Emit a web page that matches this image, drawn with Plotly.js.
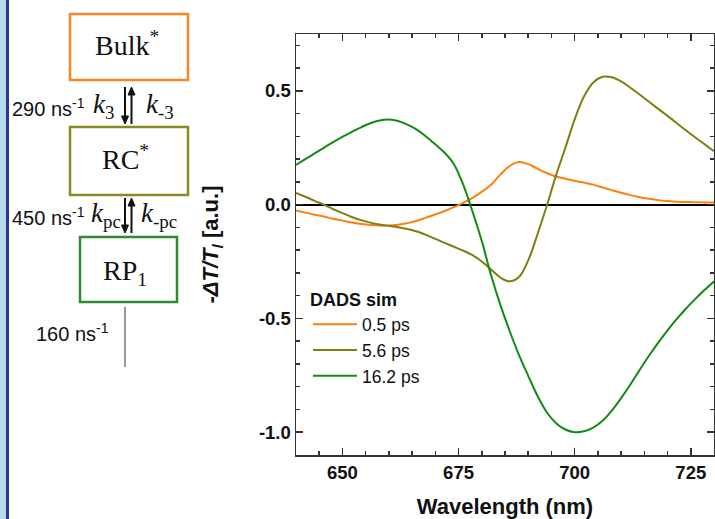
<!DOCTYPE html>
<html>
<head>
<meta charset="utf-8">
<script src="https://cdn.plot.ly/plotly-3.0.1.min.js"></script>
<style>html,body{margin:0;padding:0;background:#fff;}#chart{width:715px;height:519px;}</style>
</head>
<body>
<div id="chart"></div>
<script>
// ---- data ----
var wavelength = [640,642,644,646,648,650,652,654,656,658,660,662,664,666,668,670,672,674,676,678,680,682,684,686,688,690,692,694,696,698,700,702,704,706,708,710,712,714,716,718,720,722,724,726,728,730];
var dads05 = [-0.025,-0.035,-0.044,-0.052,-0.062,-0.070,-0.078,-0.085,-0.089,-0.092,-0.092,-0.088,-0.081,-0.071,-0.057,-0.043,-0.028,-0.011,0.008,0.030,0.056,0.088,0.132,0.170,0.187,0.178,0.158,0.139,0.124,0.114,0.105,0.097,0.088,0.076,0.064,0.052,0.042,0.033,0.026,0.020,0.016,0.013,0.012,0.011,0.010,0.010];
var dads56 = [0.052,0.035,0.017,0.000,-0.020,-0.037,-0.054,-0.068,-0.079,-0.087,-0.093,-0.099,-0.107,-0.118,-0.133,-0.150,-0.168,-0.185,-0.202,-0.222,-0.250,-0.285,-0.320,-0.337,-0.318,-0.245,-0.130,-0.005,0.130,0.250,0.375,0.475,0.537,0.562,0.560,0.542,0.514,0.484,0.452,0.421,0.390,0.358,0.326,0.295,0.265,0.235];
var dads162 = [0.175,0.200,0.225,0.250,0.275,0.298,0.320,0.340,0.358,0.370,0.374,0.368,0.352,0.330,0.300,0.265,0.228,0.178,0.088,-0.030,-0.160,-0.310,-0.440,-0.555,-0.660,-0.752,-0.840,-0.912,-0.960,-0.988,-1.000,-0.996,-0.980,-0.950,-0.905,-0.850,-0.790,-0.726,-0.664,-0.606,-0.552,-0.502,-0.456,-0.414,-0.374,-0.338];
var seriesNames = ['0.5 ps','5.6 ps','16.2 ps'];
var yTickVals = [-1.0,-0.5,0.0,0.5];
var yTickText = ['-1.0','-0.5','0.0','0.5'];
var xTickVals = [650,675,700,725];
var xTickText = ['650','675','700','725'];

// ---- layout helpers (pixel -> paper) ----
var ML = 296, MR = 1, MT = 34, MB = 64, W = 715, H = 519;
var PW = W - ML - MR, PH = H - MT - MB;
function px(x){ return (x - ML) / PW; }
function py(y){ return (H - MB - y) / PH; }

var cOrange = '#ff7f0e', cOlive = '#7f7f10', cGreen = '#138a13';

var traces = [
  {x: wavelength, y: dads05, name: seriesNames[0], mode: 'lines', line: {color: cOrange, width: 2, shape: 'spline', smoothing: 1}},
  {x: wavelength, y: dads56, name: seriesNames[1], mode: 'lines', line: {color: cOlive, width: 2, shape: 'spline', smoothing: 1}},
  {x: wavelength, y: dads162, name: seriesNames[2], mode: 'lines', line: {color: cGreen, width: 2, shape: 'spline', smoothing: 1}}
];

function rect(x0,y0,x1,y1,color){
  return {type:'rect', xref:'paper', yref:'paper', x0:px(x0), x1:px(x1), y0:py(y1), y1:py(y0), line:{color:color, width:2.5}, fillcolor:'rgba(0,0,0,0)', layer:'above'};
}
function vline(x,y0,y1,color,w){
  return {type:'line', xref:'paper', yref:'paper', x0:px(x), x1:px(x), y0:py(y0), y1:py(y1), line:{color:color, width:w}};
}
function head(x,y,dir){ // dir 1 = pointing down, -1 = up; y is tip
  var hw = 3.5, hl = 8;
  var p = 'M' + px(x) + ',' + py(y) + ' L' + px(x-hw) + ',' + py(y - dir*hl) + ' L' + px(x+hw) + ',' + py(y - dir*hl) + ' Z';
  return {type:'path', xref:'paper', yref:'paper', path:p, fillcolor:'#111', line:{color:'#111', width:1}};
}

var shapes = [
  {type:'rect', xref:'paper', yref:'paper', x0:px(0), x1:px(6), y0:py(H), y1:py(0), fillcolor:'#b5dbe9', line:{width:0}},
  {type:'rect', xref:'paper', yref:'paper', x0:px(6), x1:px(9), y0:py(H), y1:py(0), fillcolor:'#2f3393', line:{width:0}},
  rect(70,14,188,80,'#f7862a'),
  rect(70,127,188,195,'#8a8a22'),
  rect(80,237,177,302,'#2e8b2e'),
  vline(125,87,117,'#111',2), head(125,124,1),
  vline(131.5,94,124,'#111',2), head(131.5,87,-1),
  vline(125,198,226,'#111',2), head(125,233,1),
  vline(131.5,205,233,'#111',2), head(131.5,198,-1),
  vline(125,307,367,'#777',1.5)
];

var serif = 'Liberation Serif, Times New Roman, serif';
var sans = 'Liberation Sans, Arial, sans-serif';
function ann(text,x,y,xa,size,family){
  return {xref:'paper', yref:'paper', x:px(x), y:py(y), xanchor:xa, yanchor:'middle', text:text, showarrow:false, font:{family:family, size:size, color:'#111'}};
}
var annotations = [
  ann('Bulk<sup>*</sup>',127,44,'center',28,serif),
  ann('RC<sup>*</sup>',125,157,'center',28,serif),
  ann('RP<sub>1</sub>',125,272,'center',28,serif),
  ann('290 ns<sup>-1</sup>',87,107,'right',20,sans),
  ann('450 ns<sup>-1</sup>',87,216,'right',20,sans),
  ann('160 ns<sup>-1</sup>',111,333,'right',20,sans),
  ann('<i>k</i><sub>3</sub>',91,106,'left',27,serif),
  ann('<i>k</i><sub>-3</sub>',144,106,'left',27,serif),
  ann('<i>k</i><sub>pc</sub>',89,215,'left',27,serif),
  ann('<i>k</i><sub>-pc</sub>',139,215,'left',27,serif)
];

var axisCommon = {
  showline:true, linecolor:'#333', linewidth:1.5, mirror:'ticks',
  ticks:'inside', ticklen:7, tickwidth:1.5, tickcolor:'#333',
  showgrid:false, tickfont:{family:sans, size:18.5, color:'#111', weight:'bold'}
};

var layout = {
  width:W, height:H,
  margin:{l:ML, r:MR, t:MT, b:MB},
  paper_bgcolor:'#fff', plot_bgcolor:'#fff',
  showlegend:true,
  legend:{x:px(308), y:py(283), xanchor:'left', yanchor:'top', bgcolor:'rgba(0,0,0,0)', borderwidth:0,
          title:{text:'DADS sim', font:{family:sans, size:18, color:'#111', weight:'bold'}},
          font:{family:sans, size:17.5, color:'#111'}, itemwidth:44, tracegroupgap:0},
  xaxis: Object.assign({}, axisCommon, {
    range:[640,730], tickmode:'array', tickvals:xTickVals, ticktext:xTickText,
    minor:{tickmode:'linear', tick0:640, dtick:5, ticks:'inside', ticklen:4, tickwidth:1.5, tickcolor:'#333'},
    zeroline:false,
    title:{text:'Wavelength (nm)', font:{family:sans, size:22, color:'#111', weight:'bold'}, standoff:18}
  }),
  yaxis: Object.assign({}, axisCommon, {
    range:[-1.1,0.75], tickmode:'array', tickvals:yTickVals, ticktext:yTickText,
    minor:{tickmode:'linear', tick0:0, dtick:0.1, ticks:'inside', ticklen:4, tickwidth:1.5, tickcolor:'#333'},
    zeroline:true, zerolinecolor:'#000', zerolinewidth:2,
    title:{text:'-<i>ΔT/T</i><sub><i>l</i></sub> [a.u.]', font:{family:sans, size:22, color:'#111', weight:'bold'}, standoff:34}
  }),
  shapes:shapes,
  annotations:annotations
};

Plotly.newPlot('chart', traces, layout, {staticPlot:true, displayModeBar:false});
</script>
</body>
</html>
